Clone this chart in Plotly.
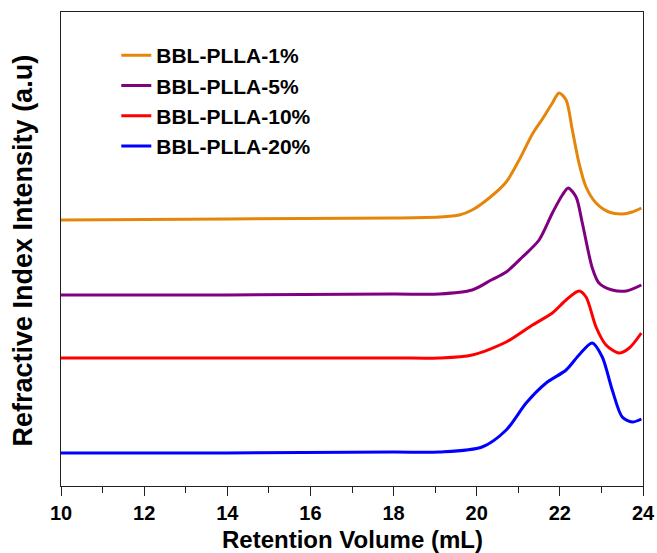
import plotly.graph_objects as go

# Retention volume (mL) and refractive-index intensity (a.u.)
x_1 = [10, 14, 18, 19.10, 19.58, 19.89, 20.30, 20.71, 21.02, 21.34, 21.58, 21.82, 21.98,
       22.15, 22.30, 22.46, 22.63, 22.87, 23.18, 23.50, 23.74, 23.96]
y_1 = [270, 271, 272, 273, 275, 280, 292, 308, 330, 356, 371, 387, 397,
       390, 360, 327, 303, 287, 278, 276, 278, 282]

x_5 = [10, 14, 18, 19.10, 19.89, 20.35, 20.71, 21.10, 21.50, 21.82, 22.06, 22.20,
       22.39, 22.54, 22.78, 22.94, 23.26, 23.60, 23.96]
y_5 = [195, 195, 196, 196, 200, 210, 218, 233, 250, 277, 295, 302,
       293, 267, 222, 207, 200, 199, 205]

x_10 = [10, 14, 18, 19.10, 19.89, 20.71, 21.34, 21.82, 22.15, 22.46, 22.63, 22.87,
        23.11, 23.42, 23.67, 23.96]
y_10 = [132, 132, 132, 132, 135, 148, 165, 177, 190, 199, 193, 163,
        145, 137, 142, 157]

x_20 = [10, 14, 18, 19.10, 20.13, 20.71, 21.19, 21.67, 22.15, 22.46, 22.78, 23.02,
        23.26, 23.50, 23.74, 23.96]
y_20 = [37, 37, 38, 38, 43, 60, 87, 107, 120, 135, 147, 133,
        100, 73, 68, 71]

names = ["BBL-PLLA-1%", "BBL-PLLA-5%", "BBL-PLLA-10%", "BBL-PLLA-20%"]
colors = ["#E5860A", "#800080", "#FF0000", "#0000FF"]
xs = [x_1, x_5, x_10, x_20]
ys = [y_1, y_5, y_10, y_20]

x_ticks = [10, 12, 14, 16, 18, 20, 22, 24]

fig = go.Figure()
for xv, yv, nm, c in zip(xs, ys, names, colors):
    fig.add_trace(go.Scatter(x=xv, y=yv, name=nm, mode="lines",
                             line=dict(color=c, width=3, shape="spline", smoothing=0.8)))

font_family = "Liberation Sans, Arial, sans-serif"

fig.update_layout(
    width=657, height=553,
    margin=dict(l=61, r=14, t=12, b=67),
    paper_bgcolor="white", plot_bgcolor="white",
    showlegend=True,
    legend=dict(x=0.095, y=0.9515, xanchor="left", yanchor="top",
                bgcolor="rgba(0,0,0,0)", borderwidth=0,
                font=dict(family=font_family, size=21, color="black", weight="bold"),
                traceorder="normal", itemwidth=30),
    font=dict(family=font_family, color="black"),
)

fig.update_xaxes(
    range=[10, 24], tickvals=x_ticks, ticktext=[str(v) for v in x_ticks],
    ticks="outside", ticklen=9, tickwidth=1.2, tickcolor="#222",
    minor=dict(dtick=1, ticks="outside", ticklen=6, tickwidth=1.2, tickcolor="#222"),
    showline=True, linecolor="#222", linewidth=1.2, mirror=True,
    showgrid=False, zeroline=False, automargin=False,
    tickfont=dict(family=font_family, size=20, color="black", weight="bold"),
)
fig.update_yaxes(
    range=[4, 478], showticklabels=False, ticks="",
    showline=True, linecolor="#222", linewidth=1.2, mirror=True,
    showgrid=False, zeroline=False, automargin=False,
)

fig.add_annotation(text="Retention Volume (mL)", xref="paper", yref="paper",
                   x=0.5, y=-0.112, xanchor="center", yanchor="middle", showarrow=False,
                   font=dict(family=font_family, size=24, color="black", weight="bold"))
fig.add_annotation(text="Refractive Index Intensity (a.u)", xref="paper", yref="paper",
                   x=-0.066, y=0.496, xanchor="center", yanchor="middle", showarrow=False,
                   textangle=-90,
                   font=dict(family=font_family, size=27, color="black", weight="bold"))

fig.write_html("out.html")
